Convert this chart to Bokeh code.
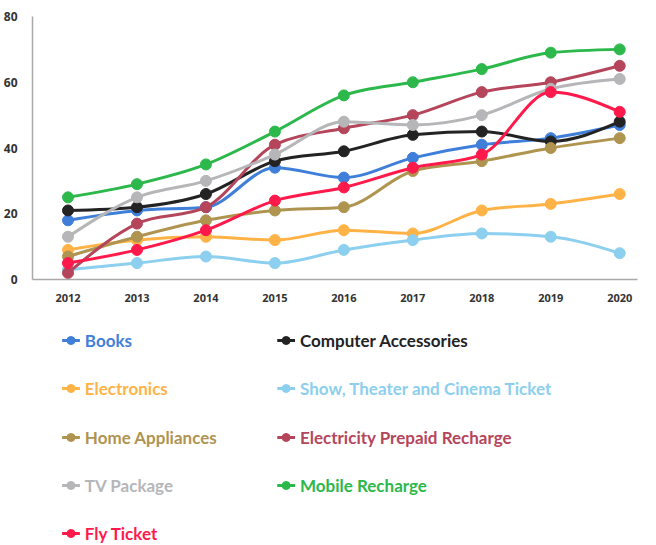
import numpy as np
from bokeh.plotting import figure
from bokeh.layouts import column
from bokeh.models import Range1d, FixedTicker
from bokeh.core.properties import value
from bokeh.embed import file_html
from bokeh.resources import INLINE

years = [2012, 2013, 2014, 2015, 2016, 2017, 2018, 2019, 2020]
series_names = ["Books", "Computer Accessories", "Electronics",
                "Show, Theater and Cinema Ticket", "Home Appliances",
                "Electricity Prepaid Recharge", "TV Package", "Mobile Recharge",
                "Fly Ticket"]
books = [18, 21, 22, 34, 31, 37, 41, 43, 47]
computer_accessories = [21, 22, 26, 36, 39, 44, 45, 42, 48]
electronics = [9, 12, 13, 12, 15, 14, 21, 23, 26]
show_tickets = [3, 5, 7, 5, 9, 12, 14, 13, 8]
home_appliances = [7, 13, 18, 21, 22, 33, 36, 40, 43]
electricity_recharge = [2, 17, 22, 41, 46, 50, 57, 60, 65]
tv_package = [13, 25, 30, 38, 48, 47, 50, 58, 61]
mobile_recharge = [25, 29, 35, 45, 56, 60, 64, 69, 70]
fly_ticket = [5, 9, 15, 24, 28, 34, 38, 57, 51]
y_ticks = [0, 20, 40, 60, 80]

series_values = [books, computer_accessories, electronics, show_tickets,
                 home_appliances, electricity_recharge, tv_package,
                 mobile_recharge, fly_ticket]
colors = ["#3F7FD9", "#232323", "#FFB347", "#8CCFEE", "#AF944F",
          "#B5455B", "#B6B6B9", "#2DB84C", "#FF1A4B"]


def monotone_tangents(x, y):
    x = np.asarray(x, float)
    y = np.asarray(y, float)
    n = len(x)
    h = np.diff(x)
    s = np.diff(y) / h
    t = np.zeros(n)
    for i in range(1, n - 1):
        s0, s1 = s[i - 1], s[i]
        p = (s0 * h[i] + s1 * h[i - 1]) / (h[i - 1] + h[i])
        t[i] = (np.sign(s0) + np.sign(s1)) * min(abs(s0), abs(s1), 0.5 * abs(p))
    t[0] = (3 * s[0] - t[1]) / 2
    t[-1] = (3 * s[-1] - t[-2]) / 2
    return t


p = figure(width=640, height=308, output_backend="svg", toolbar_location=None,
           x_range=Range1d(2011.485, 2020.258), y_range=Range1d(0, 80),
           min_border_left=24, min_border_right=3, min_border_top=16,
           min_border_bottom=29)
p.outline_line_color = None
p.xgrid.visible = False
p.ygrid.visible = False
p.background_fill_color = "white"

for vals, col in zip(series_values, colors):
    x = np.asarray(years, float)
    y = np.asarray(vals, float)
    t = monotone_tangents(x, y)
    h = np.diff(x)
    p.bezier(x0=x[:-1], y0=y[:-1], x1=x[1:], y1=y[1:],
             cx0=x[:-1] + h / 3, cy0=y[:-1] + t[:-1] * h / 3,
             cx1=x[1:] - h / 3, cy1=y[1:] - t[1:] * h / 3,
             line_color=col, line_width=3)
    p.scatter(x, y, size=11, marker="circle", fill_color=col, line_color=col)

for ax in (p.xaxis[0], p.yaxis[0]):
    ax.axis_line_color = "#A9A9A9"
    ax.axis_line_width = 1.5
    ax.major_tick_line_color = None
    ax.minor_tick_line_color = None
    ax.major_label_text_font = "Open Sans"
    ax.major_label_text_font_style = "bold"
    ax.major_label_text_color = "#333333"

p.xaxis.ticker = FixedTicker(ticks=years)
p.xaxis.major_label_text_font_size = "11px"
p.xaxis.major_label_standoff = 8
p.yaxis.ticker = FixedTicker(ticks=y_ticks)
p.yaxis.major_label_text_font_size = "12px"
p.yaxis.major_label_standoff = 9

# legend figure (data coordinates = screen pixels)
lg = figure(width=640, height=236, output_backend="svg", toolbar_location=None,
            x_range=Range1d(32, 645), y_range=Range1d(545, 309),
            min_border_left=24, min_border_right=3, min_border_top=0,
            min_border_bottom=0, x_axis_location=None, y_axis_location=None)
lg.xgrid.visible = False
lg.ygrid.visible = False
lg.outline_line_color = None

col_x = [62, 280]
row_y = [341, 389, 438, 486, 534]
for i, (name, col) in enumerate(zip(series_names, colors)):
    cx = col_x[i % 2]
    cy = row_y[i // 2]
    lg.segment(x0=[cx], y0=[cy], x1=[cx + 18], y1=[cy], line_color=col, line_width=3)
    lg.scatter([cx + 9], [cy], size=8, marker="circle", fill_color=col, line_color=col)
    lg.text([cx + 23], [cy], text=[name], text_color=col,
            text_font=value("Lato"), text_font_size="17px", text_font_style="bold",
            text_baseline="middle", text_align="left")

layout = column(p, lg, spacing=0)
open("out.html", "w").write(file_html(layout, INLINE))
